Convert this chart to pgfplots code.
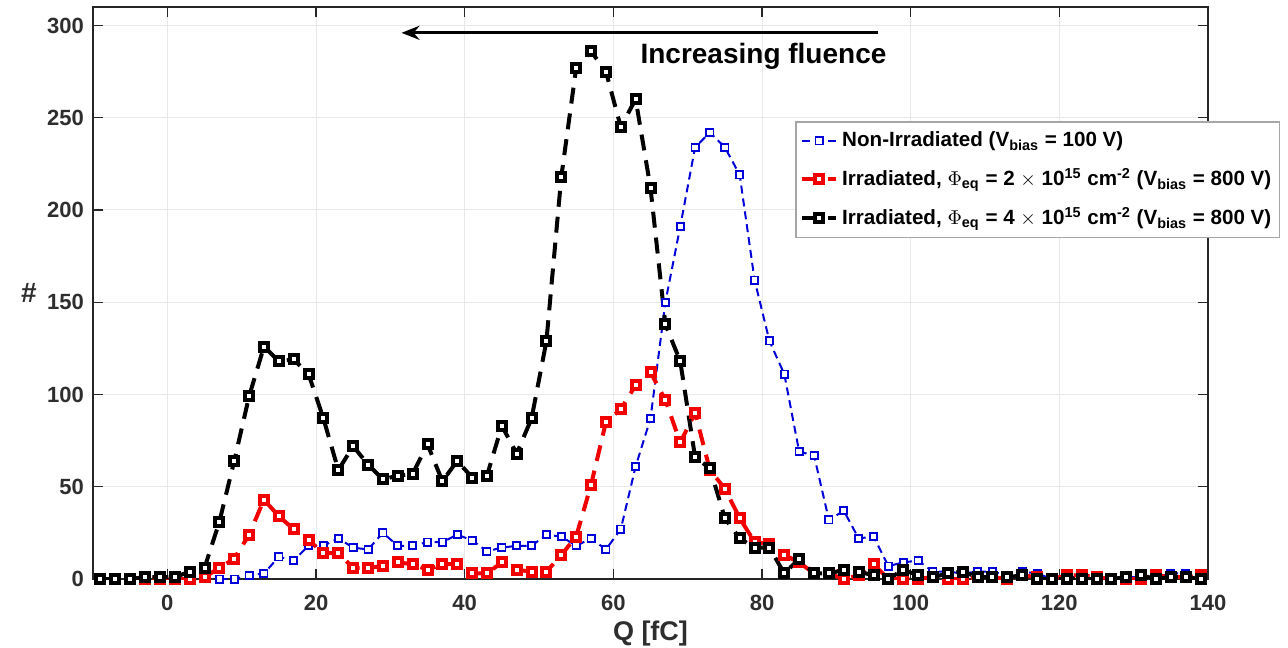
\documentclass[border=0pt]{standalone}
\usepackage{pgfplots}
\pgfplotsset{compat=1.18}
\usepackage{fontspec}
\setmainfont{Liberation Sans}
\usetikzlibrary{arrows.meta}
\definecolor{mblue}{rgb}{0,0,0.85}
\definecolor{mred}{rgb}{0.95,0,0}
\definecolor{axgray}{gray}{0.15}
\definecolor{txtgray}{gray}{0.18}
\begin{document}
\begin{tikzpicture}
\begin{axis}[
  at={(0,0)}, anchor=south west,
  scale only axis,
  width=557.5pt, height=286pt,
  xmin=-10, xmax=140, ymin=0, ymax=310,
  xtick={0,20,...,140}, ytick={0,50,...,300},
  grid=major,
  major grid style={gray!18, line width=0.5pt},
  axis line style={axgray, line width=0.6pt},
  tick style={axgray, line width=0.6pt},
  tick align=inside,
  major tick length=5pt,
  /pgf/number format/assume math mode=true,
  ticklabel style={font=\bfseries\fontsize{11}{13}\selectfont, text=txtgray},
  xticklabel style={yshift=-4.5pt},
  yticklabel style={xshift=-1pt},
  xlabel={\bfseries\fontsize{13.5}{15}\selectfont Q [fC]},
  ylabel={\bfseries\fontsize{14}{15}\selectfont \#},
  xlabel style={at={(axis description cs:0.5,0)}, anchor=north, inner sep=0pt, yshift=-21pt, text=txtgray},
  ylabel style={at={(axis description cs:0,0.5)}, anchor=center, rotate=-90, xshift=-32pt, text=txtgray},
  legend cell align=left,
  legend style={at={(rel axis cs:0.63,0.80)}, anchor=north west,
    draw=gray!70, line width=0.6pt, fill=white,
    font=\bfseries\fontsize{10.3}{12}\selectfont,
    row sep=5.3pt, inner xsep=2pt, inner ysep=3pt},
]
\addplot[mblue, line width=1pt, dash pattern=on 4pt off 2.5pt,
  mark=square*, mark size=1.8pt, mark options={solid, fill=white, line width=0.9pt}]
  table {
7 0
9 0
11 2
13 3
15 12
17 10
19 18
21 18
23 22
25 17
27 16
29 25
31 18
33 18
35 20
37 20
39 24
41 21
43 15
45 17
47 18
49 18
51 24
53 23
55 18
57 22
59 16
61 27
63 61
65 87
67 150
69 191
71 234
73 242
75 234
77 219
79 162
81 129
83 111
85 69
87 67
89 32
91 37
93 22
95 23
97 7
99 9
101 10
103 4
105 4
107 3
109 4
111 4
113 2
115 4
117 3
119 0
121 1
123 1
125 2
127 1
129 1
131 1
133 1
135 3
137 3
139 3
};
\addlegendentry{Non-Irradiated (V\textsubscript{bias} = 100 V)}
\addplot[mred, line width=2pt, dash pattern=on 8pt off 5pt,
  mark=square*, mark size=2pt, mark options={solid, fill=white, line width=2pt}]
  table {
-9 0
-7 0
-5 0
-3 0
-1 0
1 0
3 0
5 1
7 6
9 11
11 24
13 43
15 34
17 27
19 21
21 14
23 14
25 6
27 6
29 7
31 9
33 8
35 5
37 8
39 8
41 3
43 3
45 9
47 5
49 4
51 4
53 13
55 23
57 51
59 85
61 92
63 105
65 112
67 97
69 74
71 90
73 59
75 49
77 33
79 20
81 19
83 13
85 9
87 3
89 3
91 0
93 2
95 8
97 0
99 0
101 0
103 1
105 0
107 0
109 1
111 1
113 0
115 2
117 1
119 0
121 2
123 2
125 1
127 0
129 0
131 0
133 2
135 1
137 1
139 2
};
\addlegendentry{Irradiated, $\Phi$\textsubscript{eq} = 2 $\times$ 10\textsuperscript{15} cm\textsuperscript{-2} (V\textsubscript{bias} = 800 V)}
\addplot[black, line width=2pt, dash pattern=on 8pt off 5pt,
  mark=square*, mark size=2pt, mark options={solid, fill=white, line width=2pt}]
  table {
-9 0
-7 0
-5 0
-3 1
-1 1
1 1
3 4
5 6
7 31
9 64
11 99
13 126
15 118
17 119
19 111
21 87
23 59
25 72
27 62
29 54
31 56
33 57
35 73
37 53
39 64
41 55
43 56
45 83
47 68
49 87
51 129
53 218
55 277
57 286
59 275
61 245
63 260
65 212
67 138
69 118
71 66
73 60
75 33
77 22
79 17
81 17
83 3
85 11
87 3
89 3
91 5
93 4
95 2
97 0
99 5
101 2
103 1
105 3
107 4
109 1
111 1
113 1
115 2
117 0
119 0
121 0
123 0
125 0
127 0
129 1
131 2
133 0
135 1
137 1
139 0
};
\addlegendentry{Irradiated, $\Phi$\textsubscript{eq} = 4 $\times$ 10\textsuperscript{15} cm\textsuperscript{-2} (V\textsubscript{bias} = 800 V)}
\draw[black, line width=1.6pt, -{Stealth[length=9pt,width=7pt]}] (axis cs:95.6,296) -- (axis cs:31.5,296);
\node[font=\bfseries\fontsize{14}{16}\selectfont, anchor=center] at (axis cs:80.2,283.5) {Increasing fluence};
\end{axis}
\pgfresetboundingbox
\useasboundingbox (-46.5pt,-34pt) rectangle (597.5pt,289.5pt);
\end{tikzpicture}
\end{document}
